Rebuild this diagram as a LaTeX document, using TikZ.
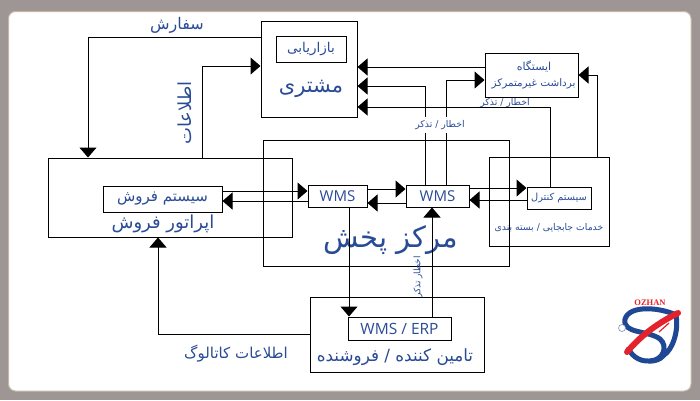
\documentclass[tikz,border=0pt]{standalone}
\usepackage{fontspec}
\usepackage{xcolor}
\usetikzlibrary{arrows.meta, positioning}
\setmainfont{Open Sans}
\newfontfamily\farsi[Script=Arabic]{DejaVu Sans}
\newfontfamily\logofont{Liberation Serif}
\TeXXeTstate=1
\newcommand{\fa}[1]{{\farsi\beginR #1\endR}}
\newcommand{\sz}[1]{\fontsize{#1}{#1}\selectfont}
\definecolor{frame}{HTML}{9E9595}
\definecolor{edge}{HTML}{C9B8A0}
\definecolor{ink}{HTML}{2A4B96}
\definecolor{logoblue}{HTML}{1E4794}
\definecolor{logored}{HTML}{E4222B}
\tikzset{
	box/.style={draw=black, line width=1pt, inner sep=0pt, text=ink},
	txt/.style={inner sep=0pt, text=ink, align=center},
	arr/.style={-{Triangle[length=10pt, width=17pt]}, line width=1pt, black},
}

\begin{document}
\begin{tikzpicture}[x=1pt, y=-1pt]
	\fill[frame] (0,0) rectangle (700,400);
	\draw[edge, fill=white, line width=1pt, rounded corners=7pt] (8.5,11.5) rectangle (691,391);
	\node[box, minimum width=96pt, minimum height=96pt] (customer) at (309,69) {};
	\node[box, minimum width=70pt, minimum height=26pt, font=\sz{13.5}] (marketing) at (311,49) {\fa{بازاریابی}};
	\node[box, minimum width=93pt, minimum height=44pt] (station) at (531.5,75) {};
	\node[box, minimum width=246pt, minimum height=126pt] (center) at (386,203) {};
	\node[box, minimum width=244pt, minimum height=79pt] (operator) at (170,197.5) {};
	\node[box, minimum width=119pt, minimum height=26pt, font=\sz{15}] (salesys) at (162.5,199) {\fa{سیستم فروش}};
	\node[box, minimum width=59pt, minimum height=22pt, font=\sz{15}] (wmsa) at (337.5,196) {WMS};
	\node[box, minimum width=63pt, minimum height=22pt, font=\sz{15}] (wmsb) at (437.5,196) {WMS};
	\node[box, minimum width=120pt, minimum height=89pt] (handling) at (549,201.5) {};
	\node[box, minimum width=64pt, minimum height=22pt, font=\sz{9.8}] (control) at (559,198) {\fa{سیستم کنترل}};
	\node[box, minimum width=174pt, minimum height=75pt] (supplier) at (397,334.5) {};
	\node[box, minimum width=103pt, minimum height=23pt, font=\sz{15.5}] (erp) at (399.5,328.5) {WMS / ERP};
	\node[txt, font=\sz{21}] (customerlbl) at (311,89) {\fa{مشتری}};
	\node[txt, font=\sz{11}] (stationlbl) at (534,66) {\fa{ایستگاه}};
	\node[txt, font=\sz{10.4}] (stationsub) at (533.5,84) {\fa{برداشت غیرمتمرکز}};
	\node[txt, font=\sz{18}] (operatorlbl) at (163,224) {\fa{اپراتور فروش}};
	\node[txt, font=\sz{29}] (centerlbl) at (391,240) {\fa{مرکز پخش}};
	\node[txt, font=\sz{9.3}] (handlinglbl) at (549,228) {\fa{خدمات جابجایی / بسته بندی}};
	\node[txt, font=\sz{16.8}] (supplierlbl) at (395,357) {\fa{تامین کننده / فروشنده}};
	\node[txt, font=\sz{16}] (orderlbl) at (177,25) {\fa{سفارش}};
	\node[txt, font=\sz{18}, rotate=90] (infolbl) at (185,113) {\fa{اطلاعات}};
	\node[txt, font=\sz{15}] (cataloglbl) at (236,354) {\fa{اطلاعات کاتالوگ}};
	\node[txt, font=\sz{9.3}] (alertb) at (505,103) {\fa{اخطار / تذکر}};
	\node[txt, font=\sz{9}, rotate=90] (alertc) at (418,277) {\fa{اخطار تذکر}};
	% customer side
	\draw[arr] ([yshift=32pt]customer.west) -| ([xshift=-82pt]operator.north);
	\draw[arr] ([xshift=32pt]operator.north) |- ([yshift=3pt]customer.west);
	\draw[arr] ([yshift=8pt]station.west) -- ([yshift=2pt]customer.east);
	\draw[arr] ([xshift=-12.5pt]wmsb.north) |- ([yshift=-17pt]customer.east);
	\draw[arr] ([xshift=-9pt]control.north) |- ([yshift=-38pt]customer.east);
	\draw[arr] ([xshift=8.5pt]wmsb.north) |- ([yshift=-5pt]station.west);
	\draw[arr] ([xshift=48pt]handling.north) |- (station.east);
	% horizontal pairs
	\foreach \a/\b/\i/\j in {salesys/wmsa/8/5, wmsa/wmsb/7/7, wmsb/control/8/10}
		\draw[arr] ([yshift=\i pt]\a.east) -- ([yshift=\j pt]\b.west);
	\foreach \a/\b/\i/\j in {salesys/wmsa/-2/-5, wmsa/wmsb/-7/-7, wmsb/control/-4/-2}
		\draw[arr] ([yshift=\j pt]\b.west) -- ([yshift=\i pt]\a.east);
	% supplier side
	\draw[arr] ([xshift=11.5pt]wmsa.south) -- ([xshift=-50.5pt]erp.north);
	\draw[arr] ([xshift=32.5pt]erp.north) -- ([xshift=-5.5pt]wmsb.south);
	\draw[arr] (supplier.west) -| ([xshift=-12pt]operator.south);
	\node[txt, fill=white, inner ysep=3pt, font=\sz{9.3}] (alerta) at (440,125) {\fa{اخطار / تذکر}};
	% logo
	\node[font=\logofont\bfseries\sz{8.5}, text=logored, inner sep=0pt] (ozhan) at (650,303) {OZHAN};
	\draw[logoblue, line width=5pt] (676,315) .. controls (662,308) and (630,304) .. (625,319) .. controls (622,334) and (648,330) .. (660,339) .. controls (668,346) and (664,360) .. (650,361) .. controls (638,362) and (630,354) .. (628,347);
	\draw[logoblue, line width=5pt] (676,315) .. controls (679,332) and (672,350) .. (664,355) .. controls (660,360) and (655,361) .. (650,361);
	\draw[logored, line width=6pt, line cap=round] (627,352) .. controls (642,334) and (660,322) .. (678,313);
	\draw[logored, line width=1.2pt] (659,332) -- (669,323);
	\fill[white, draw=logoblue!60, line width=0.6pt] (622,328) circle (3.5pt);
\end{tikzpicture}
\end{document}
